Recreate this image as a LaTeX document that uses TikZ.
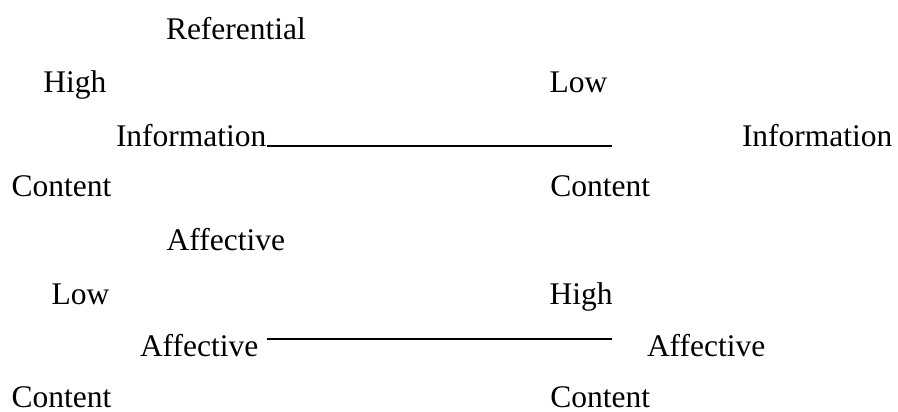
\documentclass[tikz,border=0pt]{standalone}
\usepackage{fontspec}
\setmainfont{Liberation Serif}
\begin{document}
\begin{tikzpicture}[x=1pt,y=-1pt,
  lbl/.style={anchor=base west,inner sep=0pt,outer sep=0pt,font=\fontsize{31.5}{38}\selectfont},
  rule/.style={line width=1.8pt,black}]
\useasboundingbox (0,0) rectangle (898,412);
% upper scale
\node[lbl] (ref) at (166,40) {Referential};
\node[lbl] (hi1) at (43.3,93) {High};
\node[lbl] (lo1) at (549.7,93) {Low};
\node[lbl] (infl) at (116,146.7) {Information};
\node[lbl] (infr) at (742,146.7) {Information};
\node[lbl] (con1l) at (11.7,196.7) {Content};
\node[lbl] (con1r) at (550.3,196.7) {Content};
\coordinate (u1a) at (266.7,146);
\coordinate (u1b) at (612.3,146);
\draw[rule] (u1a) -- (u1b);
% lower scale
\node[lbl] (aff) at (166.7,250) {Affective};
\node[lbl] (lo2) at (51.7,304.3) {Low};
\node[lbl] (hi2) at (549.7,304.3) {High};
\node[lbl] (affl) at (140,356.7) {Affective};
\node[lbl] (affr) at (647,356.7) {Affective};
\node[lbl] (con2l) at (11.7,407.3) {Content};
\node[lbl] (con2r) at (550.3,407.3) {Content};
\coordinate (u2a) at (266.7,339.3);
\coordinate (u2b) at (612.3,339.3);
\draw[rule] (u2a) -- (u2b);
\end{tikzpicture}
\end{document}
